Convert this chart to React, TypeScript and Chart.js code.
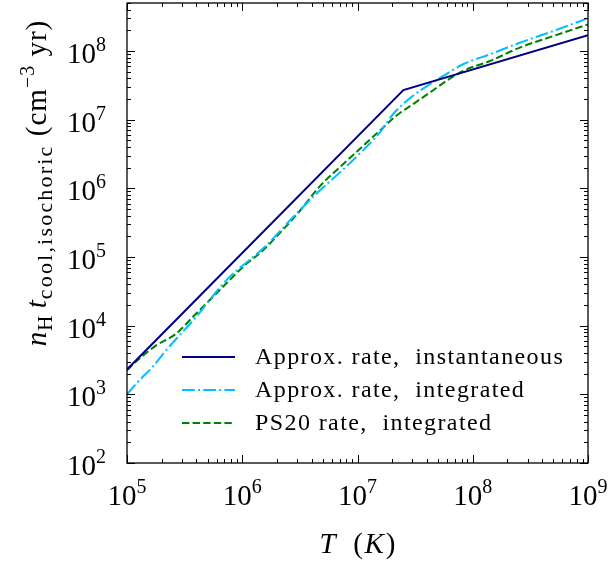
import React, { useEffect, useRef } from 'react';
import { Chart, registerables } from 'chart.js';

Chart.register(...registerables);

// ---- data ----
const instT = [1e5, 2.5e7, 1e9];
const instY = [2.3e3, 2.7e7, 1.7e8];

const approxT = [1e5, 1.27e5, 1.66e5, 2.17e5, 2.93e5, 3.95e5, 5.16e5, 7.21e5, 1.61e6, 2.74e6, 4.68e6, 6.97e6, 1.04e7, 1.55e7, 2.03e7, 2.9e7, 4.23e7, 5.9e7, 8.24e7, 1.41e8, 2.56e8, 4.99e8, 1e9];
const approxY = [1.0e3, 1.58e3, 2.48e3, 4.32e3, 7.57e3, 1.32e4, 2.31e4, 4.52e4, 1.46e5, 3.76e5, 9.2e5, 1.68e6, 3.18e6, 6.41e6, 1.2e7, 2.1e7, 3.28e7, 4.6e7, 6.41e7, 8.95e7, 1.32e8, 1.95e8, 3.0e8];

const ps20T = [1e5, 1.27e5, 1.78e5, 2.65e5, 3.95e5, 5.9e5, 1.08e6, 1.5e6, 2.1e6, 3.13e6, 4.68e6, 6.97e6, 1.04e7, 1.55e7, 2.17e7, 3.03e7, 4.23e7, 5.9e7, 8.24e7, 1.41e8, 2.56e8, 4.99e8, 1e9];
const ps20Y = [2.24e3, 3.27e3, 5.12e3, 7.57e3, 1.48e4, 2.89e4, 7.89e4, 1.23e5, 2.2e5, 4.6e5, 1.06e6, 2.01e6, 3.72e6, 6.85e6, 1.14e7, 1.68e7, 2.47e7, 3.66e7, 5.12e7, 7.16e7, 1.12e8, 1.65e8, 2.44e8];

const seriesLabels = ['Approx. rate,  instantaneous', 'Approx. rate,  integrated', 'PS20 rate,  integrated'];
const seriesColors = ['#000080', '#00BFFF', '#008000'];
const seriesDashes: number[][] = [[], [12.8, 3.2, 2, 3.2], [7.4, 3.2]];

const xMin = 1e5, xMax = 1e9;
const yMin = 1e2, yMax = 5e8;
const xTickExps = [5, 6, 7, 8, 9];
const yTickExps = [2, 3, 4, 5, 6, 7, 8];

const SERIF = '"Liberation Serif", "DejaVu Serif", serif';

type Seg = { t: string; size: number; italic?: boolean; dy?: number; ls?: number };

function fontOf(s: Seg) {
  return `${s.italic ? 'italic ' : ''}${s.size}px ${SERIF}`;
}
function setSeg(ctx: any, s: Seg) {
  ctx.font = fontOf(s);
  ctx.letterSpacing = `${s.ls || 0}px`;
}
function richWidth(ctx: CanvasRenderingContext2D, segs: Seg[]) {
  let w = 0;
  for (const s of segs) {
    setSeg(ctx, s);
    w += ctx.measureText(s.t).width;
  }
  (ctx as any).letterSpacing = '0px';
  return w;
}
function drawRich(ctx: CanvasRenderingContext2D, segs: Seg[], x: number, y: number) {
  let cx = x;
  for (const s of segs) {
    setSeg(ctx, s);
    ctx.fillText(s.t, cx, y + (s.dy || 0));
    cx += ctx.measureText(s.t).width;
  }
  (ctx as any).letterSpacing = '0px';
}
function powSegs(e: number): Seg[] {
  return [
    { t: '10', size: 29 },
    { t: String(e), size: 20, dy: -12 },
  ];
}

const decorPlugin = {
  id: 'decor',
  afterDraw(chart: any) {
    const ctx: CanvasRenderingContext2D = chart.ctx;
    const xs = chart.scales.x;
    const ys = chart.scales.y;
    const { left, right, top, bottom } = chart.chartArea;
    ctx.save();
    ctx.fillStyle = '#000';
    ctx.strokeStyle = '#000';
    ctx.textAlign = 'left';
    ctx.textBaseline = 'alphabetic';

    // frame
    ctx.lineWidth = 1.3;
    ctx.strokeRect(left, top, right - left, bottom - top);

    // ticks (inward, all four sides)
    ctx.lineWidth = 1;
    const tickLoop = (min: number, max: number, cb: (v: number, major: boolean) => void) => {
      for (let d = Math.floor(Math.log10(min)); d <= Math.ceil(Math.log10(max)); d++) {
        for (let m = 1; m <= 9; m++) {
          const v = m * Math.pow(10, d);
          if (v < min * 0.9999 || v > max * 1.0001) continue;
          cb(v, m === 1);
        }
      }
    };
    ctx.beginPath();
    tickLoop(xMin, xMax, (v, major) => {
      const px = Math.round(xs.getPixelForValue(v)) + 0.5;
      const len = major ? 8 : 4;
      ctx.moveTo(px, bottom);
      ctx.lineTo(px, bottom - len);
      ctx.moveTo(px, top);
      ctx.lineTo(px, top + len);
    });
    tickLoop(yMin, yMax, (v, major) => {
      const py = Math.round(ys.getPixelForValue(v)) + 0.5;
      const len = major ? 8 : 4;
      ctx.moveTo(left, py);
      ctx.lineTo(left + len, py);
      ctx.moveTo(right, py);
      ctx.lineTo(right - len, py);
    });
    ctx.stroke();

    // tick labels
    for (const e of xTickExps) {
      const px = xs.getPixelForValue(Math.pow(10, e));
      const segs = powSegs(e);
      const w = richWidth(ctx, segs);
      drawRich(ctx, segs, px - w / 2, bottom + 42);
    }
    for (const e of yTickExps) {
      const py = ys.getPixelForValue(Math.pow(10, e));
      const segs = powSegs(e);
      const w = richWidth(ctx, segs);
      drawRich(ctx, segs, 106 - w, py + 12);
    }

    // x title
    const xt: Seg[] = [
      { t: 'T', size: 29, italic: true },
      { t: '  (', size: 29, ls: 1.5 },
      { t: 'K', size: 29, italic: true, ls: 2 },
      { t: ')', size: 29 },
    ];
    const xw = richWidth(ctx, xt);
    drawRich(ctx, xt, (left + right) / 2 - xw / 2, 553);

    // y title
    const yt: Seg[] = [
      { t: 'n', size: 29, italic: true, ls: 1 },
      { t: 'H', size: 21, dy: 6 },
      { t: ' ', size: 29 },
      { t: 't', size: 29, italic: true, ls: 1 },
      { t: 'cool,isochoric', size: 22, dy: 6, ls: 2.2 },
      { t: ' (cm', size: 29, ls: 1 },
      { t: '\u22123', size: 20, dy: -12, ls: 1 },
      { t: ' yr)', size: 29, ls: 1 },
    ];
    const yw = richWidth(ctx, yt);
    ctx.save();
    ctx.translate(46, 183);
    ctx.rotate(-Math.PI / 2);
    drawRich(ctx, yt, -yw / 2, 0);
    ctx.restore();

    // legend
    const lx0 = 182, lx1 = 235, tx = 255;
    const ly = [357, 390, 423];
    chart.data.datasets.forEach((ds: any, i: number) => {
      ctx.save();
      ctx.strokeStyle = ds.borderColor;
      ctx.lineWidth = 2;
      ctx.setLineDash(ds.borderDash || []);
      ctx.beginPath();
      ctx.moveTo(lx0, ly[i]);
      ctx.lineTo(lx1, ly[i]);
      ctx.stroke();
      ctx.restore();
      ctx.font = `24px ${SERIF}`;
      (ctx as any).letterSpacing = '1.4px';
      ctx.fillStyle = '#000';
      ctx.textBaseline = 'middle';
      ctx.fillText(ds.label, tx, ly[i] + 1);
      ctx.textBaseline = 'alphabetic';
      (ctx as any).letterSpacing = '0px';
    });

    ctx.restore();
  },
};

function toPoints(xsArr: number[], ysArr: number[]) {
  return xsArr.map((x, i) => ({ x, y: ysArr[i] }));
}

export default function App() {
  const ref = useRef<HTMLCanvasElement | null>(null);
  useEffect(() => {
    document.body.style.margin = '0';
    const canvas = ref.current!;
    const series = [
      toPoints(instT, instY),
      toPoints(approxT, approxY),
      toPoints(ps20T, ps20Y),
    ];
    const chart = new Chart(canvas, {
      type: 'line',
      data: {
        datasets: series.map((pts, i) => ({
          label: seriesLabels[i],
          data: pts,
          borderColor: seriesColors[i],
          backgroundColor: seriesColors[i],
          borderWidth: 2,
          borderDash: seriesDashes[i],
          pointRadius: 0,
          fill: false,
          tension: 0,
          cubicInterpolationMode: i === 0 ? 'default' : 'monotone',
        })),
      },
      options: {
        responsive: false,
        animation: false,
        layout: { padding: { top: 3, right: 22, bottom: 0, left: 0 } },
        plugins: { legend: { display: false }, tooltip: { enabled: false } },
        scales: {
          x: {
            type: 'logarithmic',
            min: xMin,
            max: xMax,
            grid: { display: false },
            border: { display: false },
            ticks: { display: false },
            afterFit: (s: any) => { s.height = 102; },
          },
          y: {
            type: 'logarithmic',
            min: yMin,
            max: yMax,
            grid: { display: false },
            border: { display: false },
            ticks: { display: false },
            afterFit: (s: any) => { s.width = 127; },
          },
        },
      },
      plugins: [decorPlugin],
    } as any);
    return () => chart.destroy();
  }, []);
  return (
    <canvas ref={ref} width={610} height={565} style={{ display: 'block', width: 610, height: 565 }} />
  );
}
